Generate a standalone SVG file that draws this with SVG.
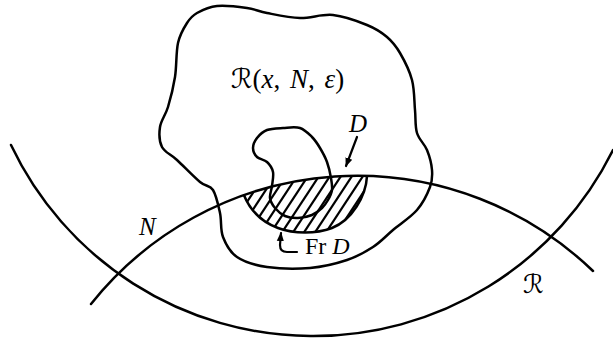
<svg xmlns="http://www.w3.org/2000/svg" width="613" height="339" viewBox="0 0 613 339">
<style>
.ln{fill:none;stroke:#000;stroke-width:2.5;stroke-linecap:round;stroke-linejoin:round}
.th{fill:none;stroke:#000;stroke-width:2.2;stroke-linecap:round;stroke-linejoin:round}
.hatch{stroke:#000;stroke-width:2.2}
.t{font-family:"Liberation Serif","DejaVu Serif",serif;fill:#000}
.i{font-style:italic}
.cal{font-family:"DejaVu Sans","Noto Sans",sans-serif;font-style:italic}
</style>
<defs>
<marker id="ah" viewBox="0 0 10 10" refX="9" refY="5" markerWidth="9" markerHeight="9" orient="auto" markerUnits="userSpaceOnUse">
<path d="M0,1 L10,5 L0,9 Z" fill="#000"/>
</marker>
<clipPath id="dclip">
<path d="M244,195.3 A340 340 0 0 1 367,176.15 C366,196 352,220 332,228 C316,234 294,234 278,228 C262,222 250,210 244,195.3 Z"/>
</clipPath>
</defs>
<g id="connectors">
<path id="arc-R" class="ln" d="M11,145 A334.5 334.5 0 0 0 613,150"/>
<path id="arc-N" class="ln" d="M91,304 A340 340 0 0 1 593,271"/>
</g>
<g id="blob-outer">
<path class="ln" d="M217,6 C225.3,5.2 238.7,6.8 247,8 C255.3,9.2 258.2,11.3 267,13 C275.8,14.7 289,17.7 300,18 C311,18.3 321.8,13.8 333,15 C344.2,16.2 358,21.3 367,25 C376,28.7 381.5,32.3 387,37 C392.5,41.7 395.8,45.8 400,53 C404.2,60.2 409.5,70.5 412,80 C414.5,89.5 414.2,101.2 415,110 C415.8,118.8 415,126.3 417,133 C419,139.7 424.5,143.8 427,150 C429.5,156.2 431.5,163.8 432,170 C432.5,176.2 432.5,180.3 430,187 C427.5,193.7 423.2,202.8 417,210 C410.8,217.2 400.3,223.8 393,230 C385.7,236.2 380.7,242 373,247 C365.3,252 357.5,256.5 347,260 C336.5,263.5 323.3,266.8 310,268 C296.7,269.2 279.2,268.8 267,267 C254.8,265.2 244.3,262 237,257 C229.7,252 225.8,244.3 223,237 C220.2,229.7 221.7,220.8 220,213 C218.3,205.2 216.3,195.2 213,190 C209.7,184.8 206,187 200,182 C194,177 183.3,165.8 177,160 C170.7,154.2 164.8,152.5 162,147 C159.2,141.5 159,133.7 160,127 C161,120.3 165.5,115.3 168,107 C170.5,98.7 173.3,87.7 175,77 C176.7,66.3 176,52 178,43 C180,34 183.8,28 187,23 C190.2,18 192,15.8 197,13 C202,10.2 208.7,6.8 217,6 Z"/>
<text class="t" x="231" y="88" font-size="27" word-spacing="3"><tspan class="cal">ℛ</tspan>(<tspan class="i">x</tspan>, <tspan class="i">N</tspan>, <tspan class="i">ε</tspan>)</text>
</g>
<g id="region-D">
<g clip-path="url(#dclip)" class="hatch">
<line x1="211" y1="240" x2="257" y2="170"/>
<line x1="222" y1="240" x2="268" y2="170"/>
<line x1="233" y1="240" x2="279" y2="170"/>
<line x1="244" y1="240" x2="290" y2="170"/>
<line x1="255" y1="240" x2="301" y2="170"/>
<line x1="266" y1="240" x2="312" y2="170"/>
<line x1="277" y1="240" x2="323" y2="170"/>
<line x1="288" y1="240" x2="334" y2="170"/>
<line x1="299" y1="240" x2="345" y2="170"/>
<line x1="310" y1="240" x2="356" y2="170"/>
<line x1="321" y1="240" x2="367" y2="170"/>
<line x1="332" y1="240" x2="378" y2="170"/>
</g>
<path class="ln" d="M367,176.15 C366,196 352,220 332,228 C316,234 294,234 278,228 C262,222 250,210 244,195.3"/>
</g>
<g id="blob-inner">
<path class="ln" d="M283,128 C288.5,127.7 295.2,126.5 300,128 C304.8,129.5 308.7,133.7 312,137 C315.3,140.3 317.5,143.8 320,148 C322.5,152.2 325.2,157 327,162 C328.8,167 330.2,173.3 331,178 C331.8,182.7 332.5,186.3 332,190 C331.5,193.7 329.7,197 328,200 C326.3,203 324.7,205.5 322,208 C319.3,210.5 316,213.3 312,215 C308,216.7 302.5,217.8 298,218 C293.5,218.2 288.8,217.7 285,216 C281.2,214.3 277.5,211 275,208 C272.5,205 270.5,201.7 270,198 C269.5,194.3 271.5,190.3 272,186 C272.5,181.7 273.8,176 273,172 C272.2,168 269.7,164.5 267,162 C264.3,159.5 259.3,159.3 257,157 C254.7,154.7 253,151.2 253,148 C253,144.8 254.7,141 257,138 C259.3,135 262.7,131.7 267,130 C271.3,128.3 277.5,128.3 283,128 Z"/>
</g>
<g id="label-D">
<text class="t i" x="349" y="132" font-size="25">D</text>
<path class="th" d="M357,137 L346,166" marker-end="url(#ah)"/>
</g>
<g id="label-FrD">
<path class="th" d="M297,252 L287,252 Q280,252 280,245 L281,233" marker-end="url(#ah)"/>
<text class="t" x="305" y="254" font-size="24">Fr <tspan class="i">D</tspan></text>
</g>
<g id="label-N">
<text class="t i" x="139" y="235" font-size="25">N</text>
</g>
<g id="label-R">
<text class="t cal" x="523" y="293" font-size="26">ℛ</text>
</g>
</svg>
